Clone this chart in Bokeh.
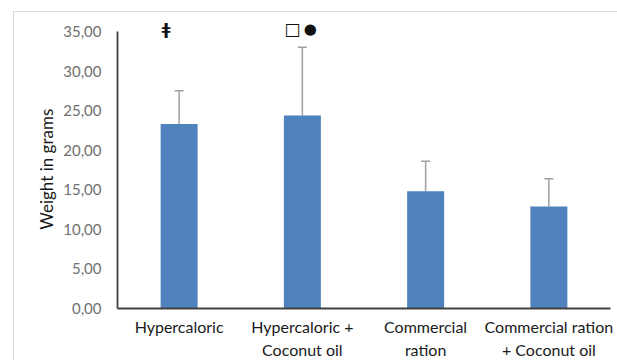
from bokeh.plotting import figure
from bokeh.models import FactorRange, Range1d, FixedTicker, Whisker, TeeHead, Label, ColumnDataSource
from bokeh.embed import file_html
from bokeh.resources import INLINE

categories = ["Hypercaloric", "Hypercaloric +\nCoconut oil", "Commercial\nration", "Commercial ration\n+ Coconut oil"]
means = [23.3, 24.4, 14.8, 12.9]
sd_upper = [4.2, 8.6, 3.8, 3.5]
y_ticks = [0, 5, 10, 15, 20, 25, 30, 35]
y_tick_labels = ["0,00", "5,00", "10,00", "15,00", "20,00", "25,00", "30,00", "35,00"]
marker_symbols = ["ǂ", "□", "●"]
marker_groups = [categories[0], categories[1], categories[1]]
marker_level = 35.3

tops = [m + s for m, s in zip(means, sd_upper)]
src = ColumnDataSource(dict(cat=categories, mean=means, top=tops))

p = figure(x_range=FactorRange(*categories, range_padding=0), y_range=Range1d(0, 37.4),
           width=603, height=348, frame_width=493, frame_height=296,
           min_border_left=103, min_border_right=7, min_border_top=0, min_border_bottom=52,
           output_backend="svg", toolbar_location=None, margin=(11, 0, 0, 13),
           styles={"border-top": "1px solid #d9d9d9", "border-left": "1px solid #d9d9d9"})
p.outline_line_color = None
p.xgrid.visible = False
p.ygrid.visible = False

p.vbar(x="cat", top="mean", width=0.3, source=src, fill_color="#4F81BD", line_color=None)

w = Whisker(base="cat", upper="top", lower="mean", source=src, line_color="#a0a0a0", line_width=1.5,
            upper_head=TeeHead(size=9, line_color="#a0a0a0", line_width=1.5), lower_head=None)
p.add_layout(w)

font = "Lato"
p.yaxis.ticker = FixedTicker(ticks=y_ticks)
p.yaxis.bounds = (0, 35)
p.yaxis.major_label_overrides = {t: l for t, l in zip(y_ticks, y_tick_labels)}
p.yaxis.major_label_text_font = font
p.yaxis.major_label_text_font_size = "15px"
p.yaxis.major_label_text_color = "#707070"
p.yaxis.major_label_standoff = 10
p.yaxis.major_tick_line_color = None
p.yaxis.minor_tick_line_color = None
p.yaxis.axis_line_color = "#404040"
p.yaxis.axis_line_width = 1.8
p.yaxis.axis_label = "Weight in grams\u00a0\u00a0\u00a0\u00a0"
p.yaxis.axis_label_text_font = font
p.yaxis.axis_label_text_font_style = "normal"
p.yaxis.axis_label_text_font_size = "17px"
p.yaxis.axis_label_text_color = "#1a1a1a"
p.yaxis.axis_label_standoff = 3

p.xaxis.major_tick_line_color = None
p.xaxis.minor_tick_line_color = None
p.xaxis.axis_line_color = "#404040"
p.xaxis.axis_line_width = 1.8
p.xaxis.major_label_text_font = font
p.xaxis.major_label_text_font_size = "16px"
p.xaxis.major_label_text_color = "#1a1a1a"
p.xaxis.major_label_text_line_height = 1.25
p.xaxis.major_label_standoff = 2

offsets = [-13, -10, 8]
fsizes = ["16px", "17px", "15px"]
for sym, grp, dx, fs in zip(marker_symbols, marker_groups, offsets, fsizes):
    p.add_layout(Label(x=categories.index(grp) + 0.5, y=marker_level, text=sym, x_offset=dx, text_align="center",
                       text_baseline="middle", text_font="DejaVu Sans", text_font_style="bold",
                       text_font_size=fs, text_color="#111111"))

open("out.html", "w").write(file_html(p, INLINE))
